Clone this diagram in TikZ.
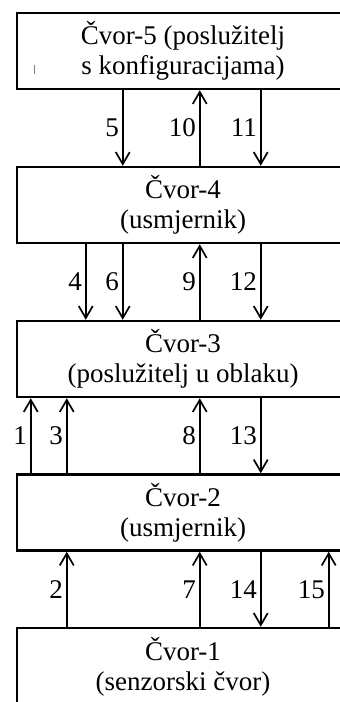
\documentclass[tikz,border=0pt]{standalone}
\usepackage{fontspec}
\setmainfont{Liberation Serif}
\usepackage{tikz}
\usetikzlibrary{arrows.meta, positioning}

\begin{document}
\begin{tikzpicture}[x=1pt, y=-1pt]
    \tikzset{
        box/.style={
            draw=black,
            line width=2.5pt,
            minimum width=332pt,
            minimum height=76pt,
            align=center,
            inner sep=0pt,
            font=\fontsize{27}{30}\selectfont
        },
        flow arrow/.style={-{Straight Barb[length=12pt, width=14pt, line width=1.7pt]}, line width=1.7pt},
        num/.style={left, inner sep=3pt, font=\fontsize{27}{30}\selectfont},
    }
    \useasboundingbox (0,0) rectangle (340,702);

    \node[box] (cvor5) at (183,51) {Čvor-5 (poslužitelj\\s konfiguracijama)};
    \node[box] (cvor4) at (183,205) {Čvor-4\\(usmjernik)};
    \node[box] (cvor3) at (183,359) {Čvor-3\\(poslužitelj u oblaku)};
    \node[box] (cvor2) at (183,512.5) {Čvor-2\\(usmjernik)};
    \node[box, minimum height=78pt] (cvor1) at (183,667) {Čvor-1\\(senzorski čvor)};

    % stray mark in the top box
    \draw[gray, line width=0.8pt] (34,65) -- (34,74);

    % between 5 and 4
    \draw[flow arrow] ([xshift=107pt]cvor5.south west) -- ([xshift=107pt]cvor4.north west) node[midway, num] {5};
    \draw[flow arrow] ([xshift=184pt]cvor4.north west) -- ([xshift=184pt]cvor5.south west) node[midway, num] {10};
    \draw[flow arrow] ([xshift=245pt]cvor5.south west) -- ([xshift=245pt]cvor4.north west) node[midway, num] {11};

    % between 4 and 3
    \draw[flow arrow] ([xshift=70pt]cvor4.south west) -- ([xshift=70pt]cvor3.north west) node[midway, num] {4};
    \draw[flow arrow] ([xshift=107pt]cvor4.south west) -- ([xshift=107pt]cvor3.north west) node[midway, num] {6};
    \draw[flow arrow] ([xshift=184pt]cvor3.north west) -- ([xshift=184pt]cvor4.south west) node[midway, num] {9};
    \draw[flow arrow] ([xshift=245pt]cvor4.south west) -- ([xshift=245pt]cvor3.north west) node[midway, num] {12};

    % between 3 and 2
    \draw[flow arrow] ([xshift=15pt]cvor2.north west) -- ([xshift=15pt]cvor3.south west) node[midway, num] {1};
    \draw[flow arrow] ([xshift=51pt]cvor2.north west) -- ([xshift=51pt]cvor3.south west) node[midway, num] {3};
    \draw[flow arrow] ([xshift=184pt]cvor2.north west) -- ([xshift=184pt]cvor3.south west) node[midway, num] {8};
    \draw[flow arrow] ([xshift=245pt]cvor3.south west) -- ([xshift=245pt]cvor2.north west) node[midway, num] {13};

    % between 2 and 1
    \draw[flow arrow] ([xshift=51pt]cvor1.north west) -- ([xshift=51pt]cvor2.south west) node[midway, num] {2};
    \draw[flow arrow] ([xshift=184pt]cvor1.north west) -- ([xshift=184pt]cvor2.south west) node[midway, num] {7};
    \draw[flow arrow] ([xshift=245pt]cvor2.south west) -- ([xshift=245pt]cvor1.north west) node[midway, num] {14};
    \draw[flow arrow] ([xshift=313pt]cvor1.north west) -- ([xshift=313pt]cvor2.south west) node[midway, num] {15};
\end{tikzpicture}
\end{document}
